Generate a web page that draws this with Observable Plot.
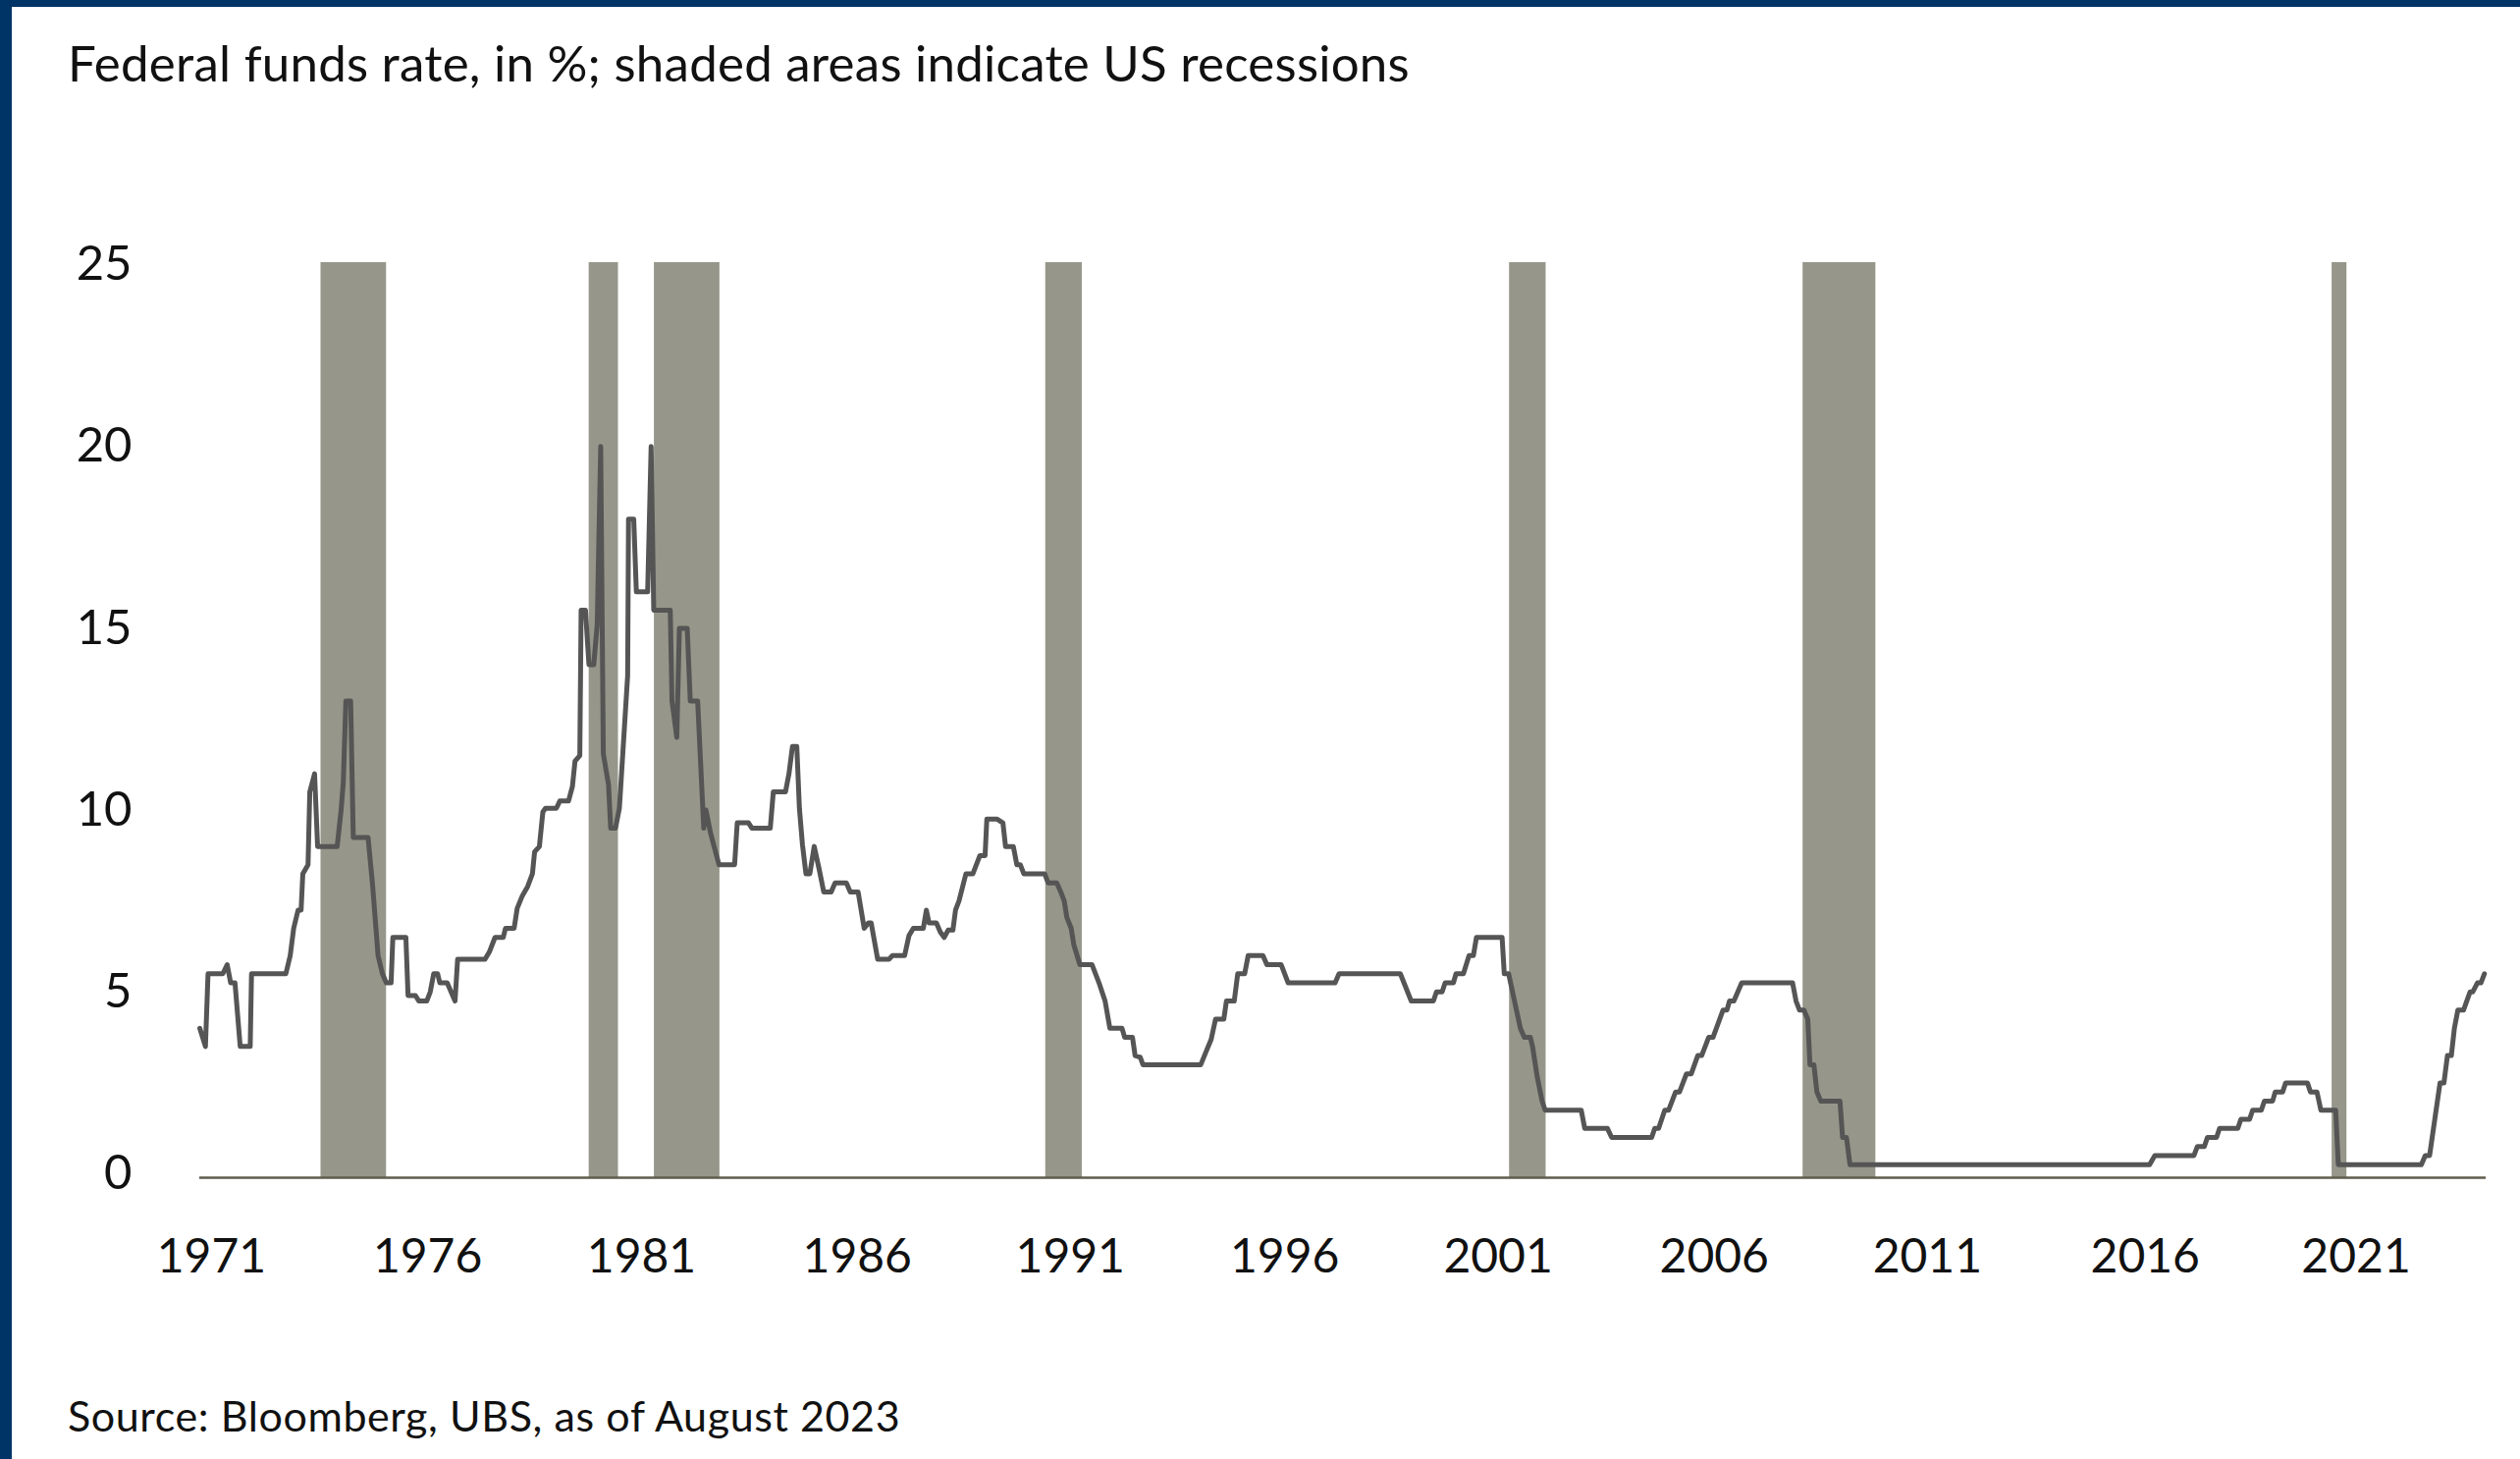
<!DOCTYPE html>
<html>
<head>
<meta charset="utf-8">
<script src="https://cdn.jsdelivr.net/npm/d3@7"></script>
<script src="https://cdn.jsdelivr.net/npm/@observablehq/plot@0.6"></script>
<style>
  html, body { margin: 0; padding: 0; background: #fff; }
  #page { position: relative; width: 2567px; height: 1486px; background: #fff; overflow: hidden;
          font-family: Lato, "Open Sans", "Noto Sans", sans-serif; font-weight: 400; color: #111; }
  .bar-left { position: absolute; left: 0; top: 0; width: 12px; height: 1486px; background: #003366; }
  .bar-top { position: absolute; left: 0; top: 0; width: 2567px; height: 7px; background: #003366; }
  #title { position: absolute; left: 69px; top: 38px; font-size: 51px; line-height: 1; white-space: nowrap; letter-spacing: 0.25px; }
  #source { position: absolute; left: 69px; top: 1420px; font-size: 43px; line-height: 1; white-space: nowrap; letter-spacing: 0.6px; }
  #chart { position: absolute; left: 0; top: 200px; }
</style>
</head>
<body>
<div id="page">
  <div class="bar-left"></div>
  <div class="bar-top"></div>
  <div id="title">Federal funds rate, in %; shaded areas indicate US recessions</div>
  <div id="chart"></div>
  <div id="source">Source: Bloomberg, UBS, as of August 2023</div>
</div>
<script>
// Federal funds rate, turning points of the series (decimal year, %)
const rateTimes = [
  1971.00, 1971.13, 1971.19, 1971.53, 1971.63, 1971.71, 1971.81, 1971.93, 1972.16, 1972.19,
  1972.98, 1973.08, 1973.16, 1973.26, 1973.33, 1973.37, 1973.49, 1973.53, 1973.64, 1973.71,
  1974.16, 1974.25, 1974.30, 1974.36, 1974.47, 1974.53, 1974.87, 1974.97, 1975.10, 1975.20,
  1975.29, 1975.40, 1975.44, 1975.74, 1975.79, 1975.96, 1976.04, 1976.22, 1976.30, 1976.38,
  1976.47, 1976.52, 1976.69, 1976.87, 1976.93, 1977.56, 1977.66, 1977.79, 1977.98, 1978.03,
  1978.23, 1978.30, 1978.42, 1978.54, 1978.65, 1978.70, 1978.81, 1978.89, 1978.95, 1979.20,
  1979.28, 1979.48, 1979.57, 1979.63, 1979.74, 1979.77, 1979.87, 1979.95, 1980.06, 1980.14,
  1980.22, 1980.28, 1980.40, 1980.45, 1980.56, 1980.65, 1980.84, 1980.86, 1980.98, 1981.04,
  1981.30, 1981.38, 1981.44, 1981.82, 1981.86, 1981.97, 1982.03, 1982.21, 1982.28, 1982.45,
  1982.59, 1982.64, 1982.75, 1982.94, 1983.30, 1983.36, 1983.62, 1983.70, 1984.12, 1984.19,
  1984.47, 1984.55, 1984.63, 1984.73, 1984.79, 1984.86, 1984.94, 1985.03, 1985.13, 1985.24,
  1985.35, 1985.52, 1985.61, 1985.87, 1985.96, 1986.14, 1986.28, 1986.38, 1986.44, 1986.59,
  1986.85, 1986.93, 1987.21, 1987.31, 1987.41, 1987.64, 1987.71, 1987.77, 1987.94, 1988.03,
  1988.12, 1988.21, 1988.32, 1988.38, 1988.46, 1988.62, 1988.78, 1988.94, 1989.06, 1989.10,
  1989.34, 1989.47, 1989.53, 1989.71, 1989.79, 1989.87, 1989.95, 1990.43, 1990.51, 1990.71,
  1990.80, 1990.88, 1990.94, 1991.04, 1991.10, 1991.24, 1991.52, 1991.68, 1991.82, 1991.93,
  1992.21, 1992.27, 1992.45, 1992.51, 1992.63, 1992.69, 1994.02, 1994.14, 1994.26, 1994.36,
  1994.55, 1994.61, 1994.79, 1994.87, 1995.03, 1995.11, 1995.45, 1995.54, 1995.87, 1996.03,
  1997.11, 1997.20, 1998.61, 1998.86, 1999.37, 1999.44, 1999.57, 1999.64, 1999.83, 1999.89,
  2000.06, 2000.19, 2000.29, 2000.36, 2000.95, 2001.00, 2001.10, 2001.37, 2001.46, 2001.60,
  2001.65, 2001.76, 2001.87, 2001.94, 2002.77, 2002.85, 2003.37, 2003.47, 2004.39, 2004.46,
  2004.55, 2004.69, 2004.78, 2004.94, 2005.03, 2005.19, 2005.30, 2005.45, 2005.54, 2005.70,
  2005.80, 2006.03, 2006.12, 2006.18, 2006.28, 2006.46, 2007.63, 2007.71, 2007.79, 2007.89,
  2007.98, 2008.03, 2008.12, 2008.19, 2008.28, 2008.72, 2008.78, 2008.87, 2008.95, 2015.84,
  2015.96, 2016.86, 2016.94, 2017.10, 2017.17, 2017.38, 2017.45, 2017.87, 2017.94, 2018.14,
  2018.21, 2018.41, 2018.48, 2018.67, 2018.73, 2018.90, 2018.97, 2019.47, 2019.54, 2019.69,
  2019.78, 2020.12, 2020.18, 2022.09, 2022.18, 2022.28, 2022.34, 2022.52, 2022.61, 2022.69,
  2022.78, 2022.85, 2022.93, 2023.06, 2023.21, 2023.27, 2023.38, 2023.46, 2023.54
];
const rateValues = [
  4.0, 3.5, 5.5, 5.5, 5.75, 5.25, 5.25, 3.5, 3.5, 5.5,
  5.5, 6.0, 6.75, 7.25, 7.25, 8.25, 8.5, 10.5, 11.0, 9.0,
  9.0, 10.0, 10.75, 13.0, 13.0, 9.25, 9.25, 8.0, 6.0, 5.5,
  5.25, 5.25, 6.5, 6.5, 4.9, 4.9, 4.75, 4.75, 5.0, 5.5,
  5.5, 5.25, 5.25, 4.75, 5.9, 5.9, 6.1, 6.5, 6.5, 6.75,
  6.75, 7.3, 7.65, 7.9, 8.25, 8.85, 9.0, 9.95, 10.05, 10.05,
  10.25, 10.25, 10.65, 11.35, 11.5, 15.5, 15.5, 14.0, 14.0, 15.1,
  20.0, 11.55, 10.7, 9.5, 9.5, 10.05, 13.7, 18.0, 18.0, 16.0,
  16.0, 20.0, 15.5, 15.5, 13.0, 12.0, 15.0, 15.0, 13.0, 13.0,
  9.5, 10.0, 9.35, 8.5, 8.5, 9.65, 9.65, 9.5, 9.5, 10.5,
  10.5, 11.0, 11.75, 11.75, 10.05, 9.05, 8.25, 8.25, 9.0, 8.4,
  7.75, 7.75, 8.0, 8.0, 7.75, 7.75, 6.75, 6.9, 6.9, 5.9,
  5.9, 6.0, 6.0, 6.55, 6.75, 6.75, 7.25, 6.9, 6.9, 6.65,
  6.5, 6.7, 6.7, 7.25, 7.5, 8.25, 8.25, 8.75, 8.75, 9.75,
  9.75, 9.65, 9.0, 9.0, 8.5, 8.5, 8.25, 8.25, 8.0, 8.0,
  7.75, 7.5, 7.05, 6.75, 6.3, 5.75, 5.75, 5.25, 4.75, 4.0,
  4.0, 3.75, 3.75, 3.25, 3.2, 3.0, 3.0, 3.35, 3.7, 4.25,
  4.25, 4.75, 4.75, 5.5, 5.5, 6.0, 6.0, 5.75, 5.75, 5.25,
  5.25, 5.5, 5.5, 4.75, 4.75, 5.0, 5.0, 5.25, 5.25, 5.5,
  5.5, 6.0, 6.0, 6.5, 6.5, 5.5, 5.5, 4.0, 3.75, 3.75,
  3.5, 2.65, 2.0, 1.75, 1.75, 1.25, 1.25, 1.0, 1.0, 1.25,
  1.25, 1.75, 1.75, 2.25, 2.25, 2.75, 2.75, 3.25, 3.25, 3.75,
  3.75, 4.5, 4.5, 4.75, 4.75, 5.25, 5.25, 4.75, 4.5, 4.5,
  4.25, 3.0, 3.0, 2.25, 2.0, 2.0, 1.0, 1.0, 0.25, 0.25,
  0.5, 0.5, 0.75, 0.75, 1.0, 1.0, 1.25, 1.25, 1.5, 1.5,
  1.75, 1.75, 2.0, 2.0, 2.25, 2.25, 2.5, 2.5, 2.25, 2.25,
  1.75, 1.75, 0.25, 0.25, 0.5, 0.5, 1.0, 2.5, 2.5, 3.25,
  3.25, 4.0, 4.5, 4.5, 5.0, 5.0, 5.25, 5.25, 5.5
];

// US recessions (first and last month)
const recessionStart = ["1973-11", "1980-01", "1981-07", "1990-07", "2001-03", "2007-12", "2020-02"];
const recessionEnd   = ["1975-03", "1980-07", "1982-11", "1991-03", "2001-11", "2009-06", "2020-04"];

// Axis ticks
const yTicks = [0, 5, 10, 15, 20, 25];
const xTickPositions = [1971.27, 1976.24, 1981.16, 1986.12, 1991.02, 1995.95, 2000.86, 2005.83, 2010.73, 2015.74, 2020.59];
const xTickLabels = ["1971", "1976", "1981", "1986", "1991", "1996", "2001", "2006", "2011", "2016", "2021"];

const series = rateTimes.map((t, i) => ({t, v: rateValues[i]}));
const monthToYear = (s, endOfMonth) => {
  const [y, m] = s.split("-").map(Number);
  return y + (endOfMonth ? m : m - 1) / 12;
};
const recessions = recessionStart.map((s, i) => ({
  start: monthToYear(s, false),
  end: monthToYear(recessionEnd[i], true)
}));

const chart = Plot.plot({
  width: 2567,
  height: 1140,
  marginTop: 69,
  marginBottom: 145,
  marginLeft: 203,
  marginRight: 35,
  style: {background: "transparent", fontFamily: "Lato, 'Open Sans', 'Noto Sans', sans-serif", fontWeight: 400, color: "#111", overflow: "visible"},
  x: {type: "linear", domain: [1971, 2023.58]},
  y: {domain: [0, 25]},
  marks: [
    Plot.rect(recessions, {x1: "start", x2: "end", y1: 0, y2: 25, fill: "#96968a", insetLeft: -2, insetRight: -2, insetTop: -2, insetBottom: -4}),
    Plot.ruleY([0], {stroke: "#5e5d4c", strokeWidth: 2.5, dy: 4}),
    Plot.line(series, {x: "t", y: "v", stroke: "#555555", strokeWidth: 5}),
    Plot.axisY({ticks: yTicks, tickSize: 0, tickPadding: 69, fontSize: 49, label: null}),
    Plot.axisX({ticks: xTickPositions, tickFormat: (d, i) => xTickLabels[i], tickSize: 0, tickPadding: 66, fontSize: 48, label: null})
  ]
});
document.getElementById("chart").appendChild(chart);
</script>
</body>
</html>
